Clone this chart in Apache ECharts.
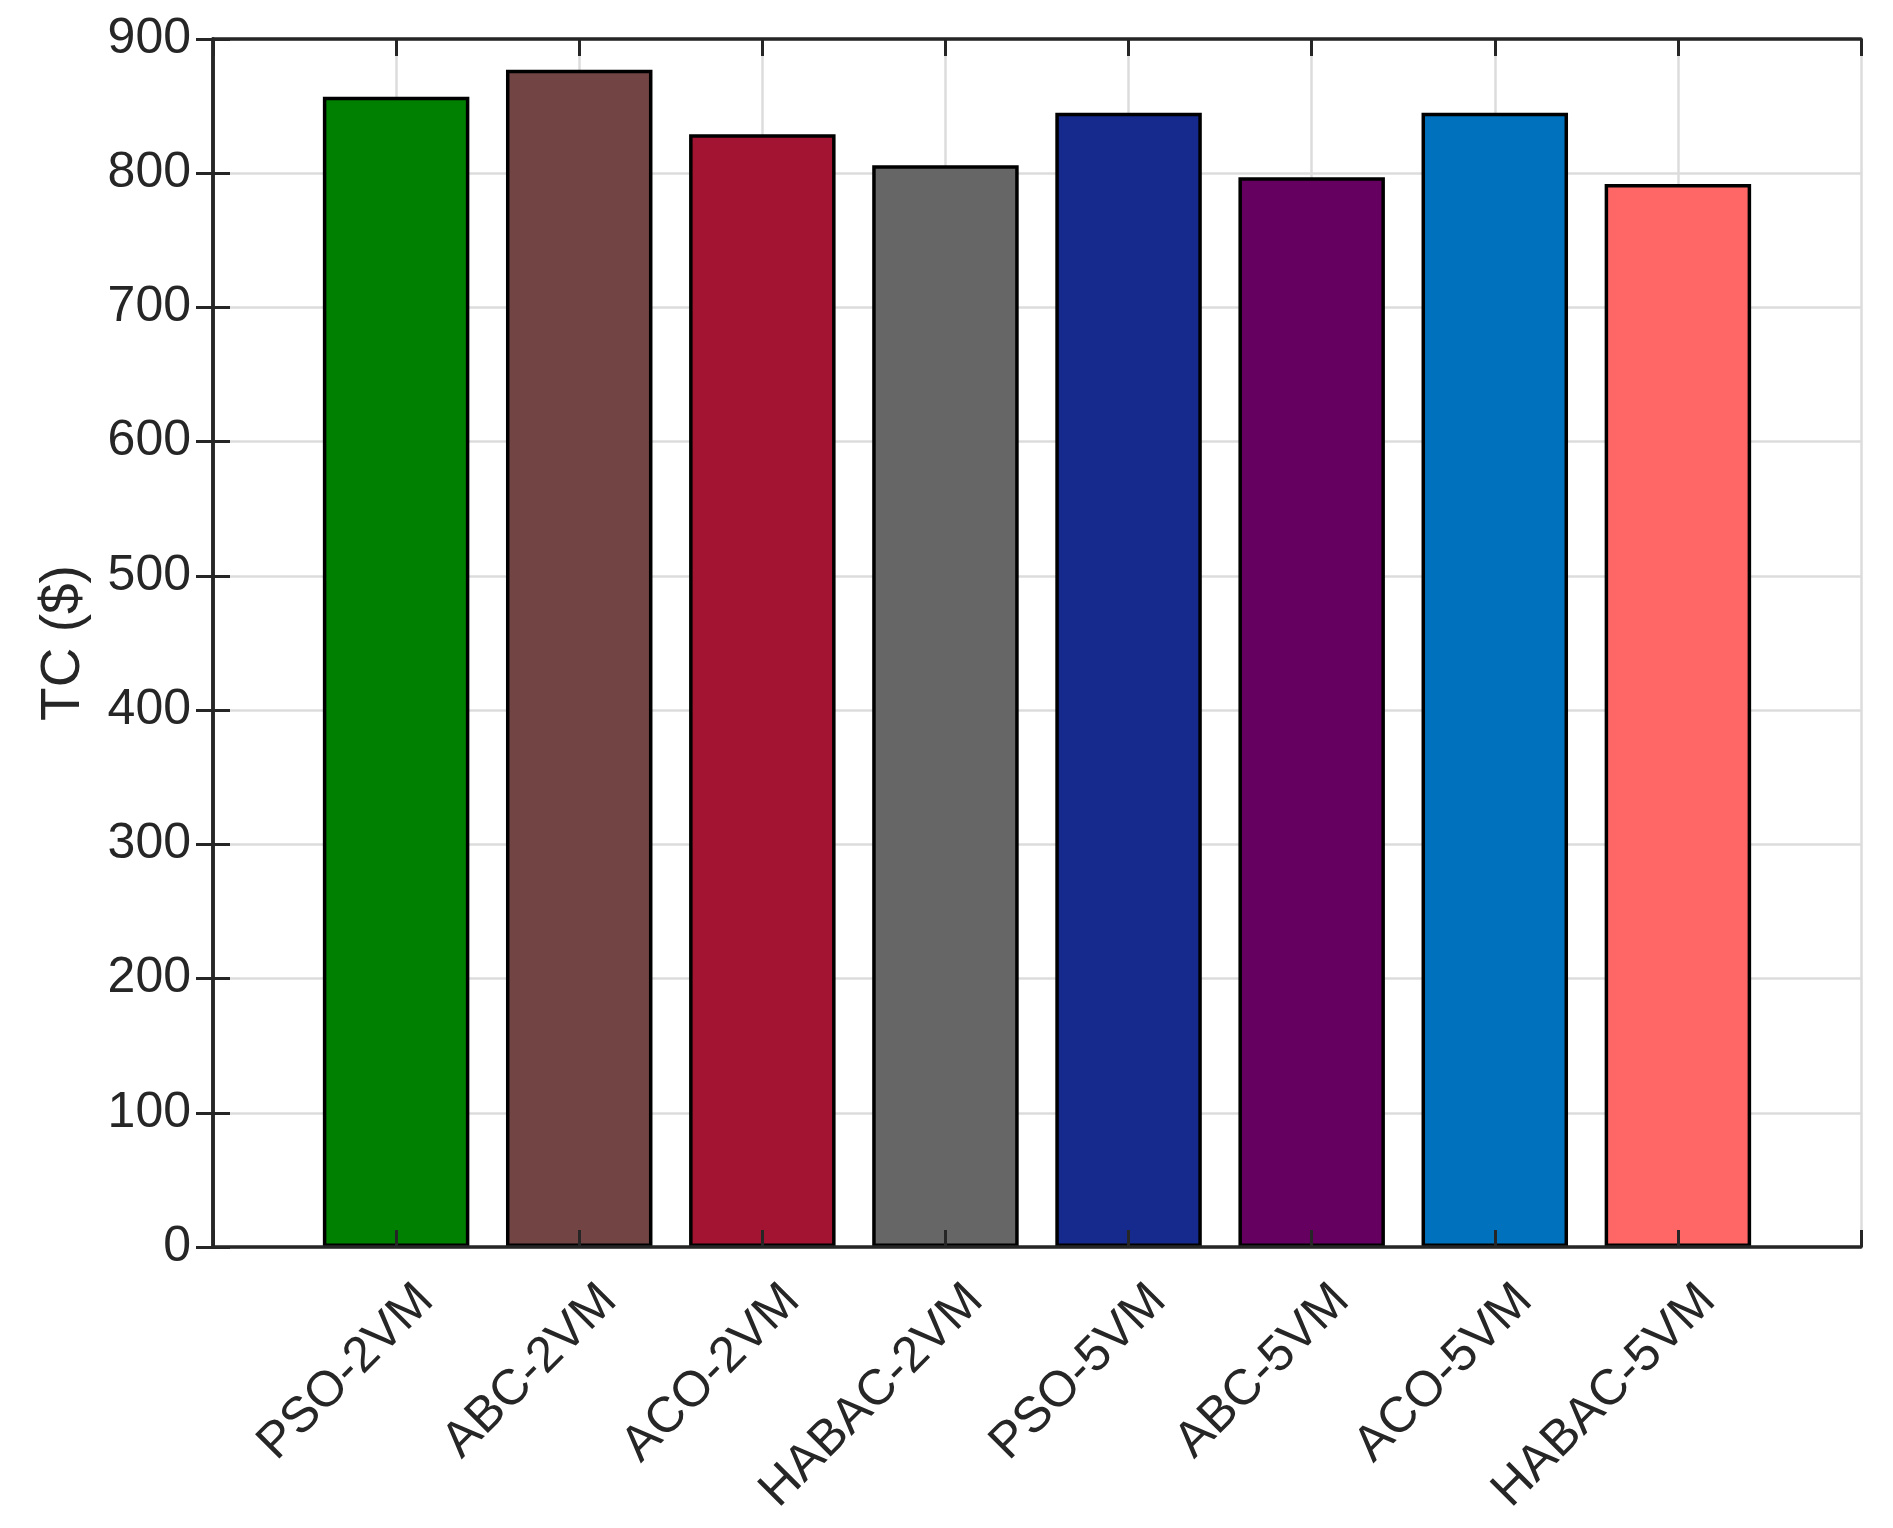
<!DOCTYPE html>
<html>
<head>
<meta charset="utf-8">
<script src="https://cdn.jsdelivr.net/npm/echarts@6/dist/echarts.min.js"></script>
<style>
html,body{margin:0;padding:0;background:#fff;}
#chart{width:1893px;height:1528px;}
</style>
</head>
<body>
<div id="chart"></div>
<script>
const categories = ['PSO-2VM','ABC-2VM','ACO-2VM','HABAC-2VM','PSO-5VM','ABC-5VM','ACO-5VM','HABAC-5VM'];
const values = [857, 877, 829, 806, 845, 797, 845, 792];
const colors = ['#008000','#734444','#A21431','#666666','#152A8C','#650060','#0072BD','#FF6666'];
const yTicks = [0,100,200,300,400,500,600,700,800,900];

const W = 1893, H = 1528;
const gridL = 213, gridR = 32, gridT = 39, gridB = 281;
const unit = (W - gridL - gridR) / 9;
const FONT = "'Liberation Sans', Arial, Helvetica, sans-serif";
const AX = '#262626';
const GRID = '#dcdcdc';

const chart = echarts.init(document.getElementById('chart'), null, {renderer:'canvas'});

const baseX = {
  type:'value', min:0, max:9, interval:1,
  axisLine:{show:true, onZero:false, lineStyle:{color:AX, width:3.5}},
  axisTick:{show:true, inside:true, length:17, lineStyle:{color:AX, width:3}},
};

chart.setOption({
  backgroundColor:'#fff',
  animation:false,
  grid:{left:gridL, right:gridR, top:gridT, bottom:gridB, containLabel:false},
  xAxis:[
    Object.assign({}, baseX, {
      position:'bottom', z:5,
      splitLine:{show:false},
      axisLabel:{
        show:true, rotate:45, margin:16, fontSize:50, fontFamily:FONT, color:AX,
        verticalAlign:'top', lineHeight:50, padding:[17,0,0,0],
        formatter: v => (v>=1 && v<=categories.length) ? categories[v-1] : ''
      }
    }),
    Object.assign({}, baseX, {
      position:'top',
      splitLine:{show:true, lineStyle:{color:GRID, width:2.5}},
      axisLabel:{show:false}
    })
  ],
  yAxis:[
    {
      type:'value', min:0, max:900, interval:100, position:'left',
      name:'TC ($)', nameLocation:'middle', nameGap:122,
      nameTextStyle:{fontSize:55, fontFamily:FONT, color:AX},
      axisLine:{show:true, lineStyle:{color:AX, width:3.5}},
      axisTick:{show:true, inside:true, length:17, lineStyle:{color:AX, width:3}},
      splitLine:{show:true, lineStyle:{color:GRID, width:2.5}},
      axisLabel:{show:true, margin:22, fontSize:50, fontFamily:FONT, color:AX,
        padding:[10,0,0,0],
        formatter: v => yTicks.includes(v) ? String(v) : ''}
    },
    {
      type:'value', min:0, max:900, interval:100, position:'right',
      axisLine:{show:true, lineStyle:{color:AX, width:3.5}},
      axisTick:{show:true, inside:true, length:17, lineStyle:{color:AX, width:3}},
      splitLine:{show:false},
      axisLabel:{show:false}
    }
  ],
  series:[{
    type:'bar',
    xAxisIndex:0, yAxisIndex:0,
    barWidth: unit*0.8,
    data: values.map((v,i)=>({
      value:[i+1, v],
      itemStyle:{color:colors[i], borderColor:'#000', borderWidth:3.5}
    }))
  }]
});
</script>
</body>
</html>
